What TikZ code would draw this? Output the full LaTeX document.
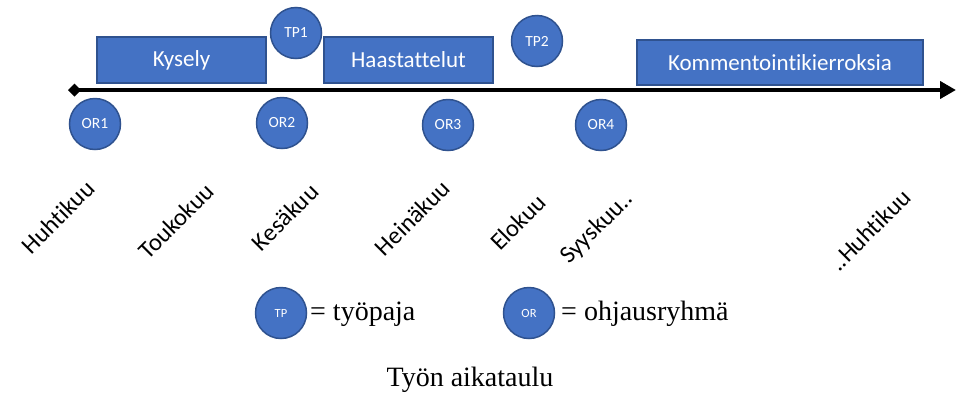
\documentclass[tikz,border=0pt]{standalone}
\usepackage{fontspec}
\setmainfont{Carlito}[RawFeature=-liga]
\newfontfamily\serifft{Liberation Serif}
\usetikzlibrary{arrows.meta}
\definecolor{fillblue}{HTML}{4472C4}
\definecolor{edgeblue}{HTML}{2F528F}
\tikzset{
  phasebox/.style={draw=edgeblue, line width=1.5pt, fill=fillblue, text=white, inner sep=0pt, font=\fontsize{23}{25}\selectfont},
  meetcirc/.style={circle, draw=edgeblue, line width=1.5pt, fill=fillblue, text=white, inner sep=0pt, minimum size=51pt, font=\fontsize{15.5}{17}\selectfont},
  legcirc/.style={meetcirc, font=\fontsize{12.5}{14}\selectfont},
  month/.style={rotate=45, font=\fontsize{24.5}{26}\selectfont, inner sep=0pt},
  legtext/.style={anchor=base west, font=\serifft\fontsize{28}{30}\selectfont, inner sep=0pt},
}
\begin{document}
\begin{tikzpicture}[x=1pt,y=-1pt]
\useasboundingbox (0,0) rectangle (960,397);
% axis
\coordinate (axstart) at (68,90);
\coordinate (axend) at (956,90);
\draw[line width=4pt, {Diamond[length=13pt,width=13pt]}-{Triangle[length=16pt,width=17pt]}] (axstart) -- (axend);
% phase boxes
\node[phasebox, minimum width=169pt, minimum height=46pt] (kys) at (181.5,60) {Kysely};
\node[phasebox, minimum width=169pt, minimum height=46pt] (haa) at (408.5,60) {Haastattelut};
\node[phasebox, minimum width=286pt, minimum height=45pt] (kom) at (780,62.5) {Kommentointikierroksia};
% workshops
\node[meetcirc] (tp1) at (296,33) {TP1};
\node[meetcirc] (tp2) at (537,41) {TP2};
% steering group
\node[meetcirc] (or1) at (95,124) {OR1};
\node[meetcirc] (or2) at (282,123) {OR2};
\node[meetcirc] (or3) at (448,125) {OR3};
\node[meetcirc] (or4) at (601,125) {OR4};
% months
\node[month] (m1) at (58,217) {Huhtikuu};
\node[month] (m2) at (176,221) {Toukokuu};
\node[month] (m3) at (285,217) {Kesäkuu};
\node[month] (m4) at (412,218) {Heinäkuu};
\node[month] (m5) at (518,222) {Elokuu};
\node[month] (m6) at (597,228) {Syyskuu..};
\node[month] (m7) at (870,230) {..Huhtikuu};
% legend
\node[legcirc] (ltp) at (281,313) {TP};
\node[legtext] (ltptxt) at (310,320) {= työpaja};
\node[legcirc] (lor) at (529,313) {OR};
\node[legtext] (lortxt) at (561,320) {= ohjausryhmä};
% caption
\node[font=\serifft\fontsize{28}{30}\selectfont, inner sep=0pt] (cap) at (470,380) {Työn aikataulu};
\end{tikzpicture}
\end{document}
